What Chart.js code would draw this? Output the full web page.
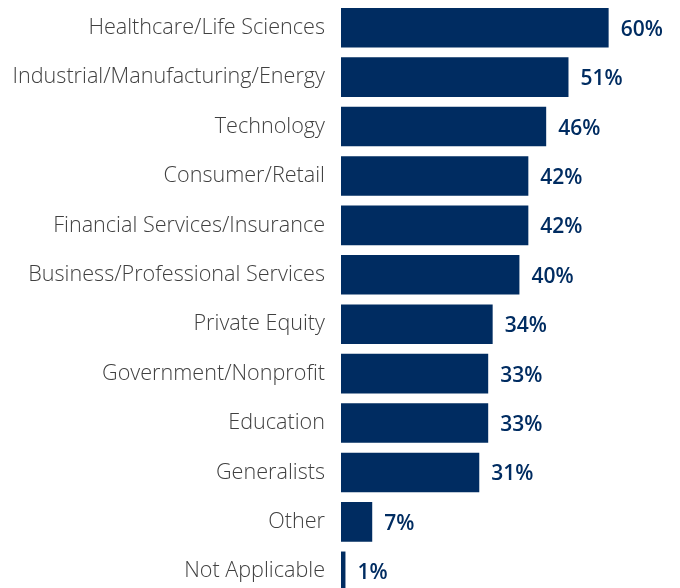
<!DOCTYPE html>
<html>
<head>
<meta charset="utf-8">
<script src="https://cdn.jsdelivr.net/npm/chart.js@4"></script>
<style>
  html, body { margin: 0; padding: 0; background: #fff; overflow: hidden; }
  canvas { display: block; }
</style>
</head>
<body>
<canvas id="sectors" width="680" height="600"></canvas>
<script>
const sectors = [
    'Healthcare/Life Sciences',
    'Industrial/Manufacturing/Energy',
    'Technology',
    'Consumer/Retail',
    'Financial Services/Insurance',
    'Business/Professional Services',
    'Private Equity',
    'Government/Nonprofit',
    'Education',
    'Generalists',
    'Other',
    'Not Applicable'
]
const shares = [60, 51, 46, 42, 42, 40, 34, 33, 33, 31, 7, 1]

const navy = '#002c61'

// percentage printed just past the end of each bar
const valueLabels = {
    id: 'valueLabels',
    afterDatasetsDraw(chart) {
        const ctx = chart.ctx
        const meta = chart.getDatasetMeta(0)
        ctx.save()
        ctx.fillStyle = navy
        ctx.font = '600 21px "Open Sans"'
        ctx.textAlign = 'left'
        ctx.textBaseline = 'middle'
        meta.data.forEach((bar, i) => {
            ctx.fillText(shares[i] + '%', bar.x + 12, bar.y + 2)
        })
        ctx.restore()
    }
}

const ctx = document.getElementById('sectors').getContext('2d')

new Chart(ctx, {
    type: 'bar',
    data: {
        labels: sectors,
        datasets: [{
            data: shares,
            backgroundColor: navy,
            barPercentage: 0.8,
            categoryPercentage: 1
        }]
    },
    options: {
        indexAxis: 'y',
        responsive: false,
        animation: false,
        layout: { padding: { top: 3, right: 0, bottom: 4, left: 0 } },
        plugins: {
            legend: { display: false },
            tooltip: { enabled: false }
        },
        scales: {
            x: {
                display: false,
                min: 0,
                max: 76
            },
            y: {
                border: { display: false },
                grid: { display: false, drawTicks: false },
                afterFit(scale) {
                    // fixed label column; no extra room above/below the bars
                    scale.width = 341
                    scale.paddingTop = 0
                    scale.paddingBottom = 0
                },
                ticks: {
                    padding: 16,
                    color: '#404040',
                    font: { family: 'Open Sans', weight: 300, size: 21.6 }
                }
            }
        }
    },
    plugins: [valueLabels]
})
</script>
</body>
</html>
